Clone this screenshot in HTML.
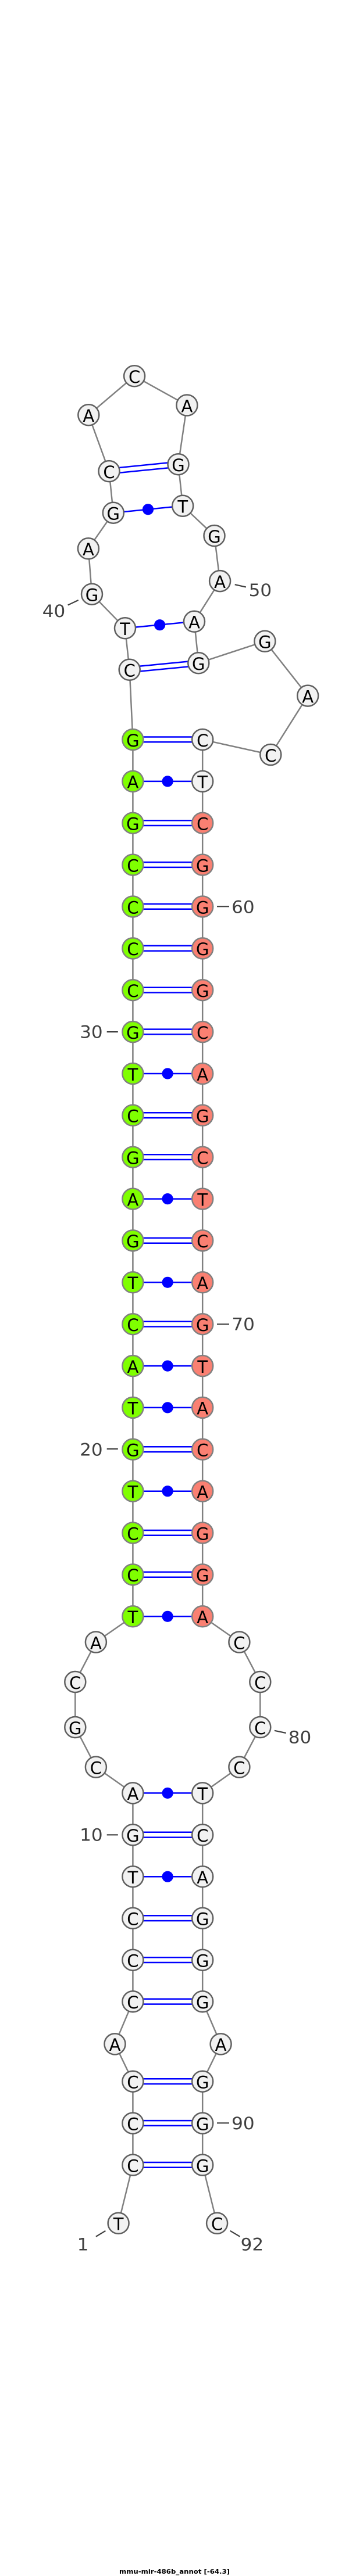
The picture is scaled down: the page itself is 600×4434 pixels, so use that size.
<!DOCTYPE html>
<html><head><meta charset="utf-8"><title>mmu-mir-486b_annot</title>
<style>
html,body{margin:0;padding:0;background:#fff}
svg{display:block}
.k{fill:none;stroke:#808080;stroke-width:2.5}
.b{fill:none;stroke:#0000ff;stroke-width:2.5}
.d{fill:#0000ff}
.w{fill:#f2f2f2;stroke:#5f5f5f;stroke-width:2.5;r:18px}
.g{fill:#7fff00;stroke:#808080;stroke-width:2.5;r:18px}
.s{fill:#fa8072;stroke:#808080;stroke-width:2.5;r:18px}
.n{font:29px "DejaVu Sans",sans-serif;fill:#000;text-anchor:middle;transform:translateY(2.3px)}
.l{font:29px "DejaVu Sans",sans-serif;fill:#404040}
.t{fill:none;stroke:#404040;stroke-width:2.2}
.h{font:bold 11px "DejaVu Sans",sans-serif;fill:#000}
</style></head><body>
<svg width="600" height="4434" viewBox="0 0 600 4434" xmlns="http://www.w3.org/2000/svg">
<path class="k" d="M203.6 3826.8L228.4 3726.5V3582.7L197.5 3518.4L228.4 3445.3V3086.4L164.9 3041.6L129.3 2973V2895L164.9 2826.5L228.4 2782.3V1273L222.7 1152.8L215 1081.3L158 1022.7L151.9 944.3L194.8 882.7L187.5 811.1L152.3 714.3L231.1 647.3L321.4 697.5L306.5 799.2L314.2 870.8L368.5 922.1L378.1 1000.1L334 1069.8L341.3 1141.3L455.4 1103.8L529.2 1197.6L465.3 1299L348.2 1273V2782.3L411.4 2826.5L447.3 2895V2973L411.4 3041.6L348.2 3086.4V3445.3L379.6 3518.4L348.2 3582.7V3726.5L373.1 3826.8"/>
<path class="b" d="M187.9 815.5L306.9 803.6M187.1 806.7L306.1 794.8M194.8 882.7L314.2 870.8M215 1081.3L334 1069.8M223.1 1157.2L341.7 1145.7M222.3 1148.4L340.9 1136.9"/>
<circle class="d" cx="254.5" cy="876.8" r="9.6"/><circle class="d" cx="274.6" cy="1075.7" r="9.6"/>

<g>
<circle class="w" cx="231.1" cy="647.3" r="18"/><text class="n" x="231.1" y="656.8">C</text>
<circle class="w" cx="321.4" cy="697.5" r="18"/><text class="n" x="321.4" y="707">A</text>
<circle class="w" cx="152.3" cy="714.3" r="18"/><text class="n" x="152.3" y="723.8">A</text>
<circle class="w" cx="306.5" cy="799.2" r="18"/><text class="n" x="306.5" y="808.7">G</text>
<circle class="w" cx="187.5" cy="811.1" r="18"/><text class="n" x="187.5" y="820.6">C</text>
<circle class="w" cx="314.2" cy="870.8" r="18"/><text class="n" x="314.2" y="880.3">T</text>
<circle class="w" cx="194.8" cy="882.7" r="18"/><text class="n" x="194.8" y="892.2">G</text>
<circle class="w" cx="368.5" cy="922.1" r="18"/><text class="n" x="368.5" y="931.6">G</text>
<circle class="w" cx="151.9" cy="944.3" r="18"/><text class="n" x="151.9" y="953.8">A</text>
<circle class="w" cx="378.1" cy="1000.1" r="18"/><text class="n" x="378.1" y="1009.6">A</text>
<circle class="w" cx="158" cy="1022.7" r="18"/><text class="n" x="158" y="1032.2">G</text>
<circle class="w" cx="334" cy="1069.8" r="18"/><text class="n" x="334" y="1079.3">A</text>
<circle class="w" cx="215" cy="1081.3" r="18"/><text class="n" x="215" y="1090.8">T</text>
<circle class="w" cx="222.7" cy="1152.8" r="18"/><text class="n" x="222.7" y="1162.3">C</text>
<circle class="w" cx="341.3" cy="1141.3" r="18"/><text class="n" x="341.3" y="1150.8">G</text>
<circle class="w" cx="455.4" cy="1103.8" r="18"/><text class="n" x="455.4" y="1113.3">G</text>
<circle class="w" cx="529.2" cy="1197.6" r="18"/><text class="n" x="529.2" y="1207.1">A</text>
<circle class="w" cx="465.3" cy="1299" r="18"/><text class="n" x="465.3" y="1308.5">C</text>
</g>

<g transform="translate(0,1273)"><path class="b" d="M228.4 -4.5H348.2M228.4 4.3H348.2"/><circle class="g" cx="228.4" cy="0" r="18"/><text class="n" x="228.4" y="9.5">G</text><circle class="w" cx="348.2" cy="0" r="18"/><text class="n" x="348.2" y="9.5">C</text></g>
<g transform="translate(0,1344.9)"><path class="b" d="M228.4 0H348.2"/><circle class="d" cx="288.1" cy="0" r="9.6"/><circle class="g" cx="228.4" cy="0" r="18"/><text class="n" x="228.4" y="9.5">A</text><circle class="w" cx="348.2" cy="0" r="18"/><text class="n" x="348.2" y="9.5">T</text></g>
<g transform="translate(0,1416.7)"><path class="b" d="M228.4 -4.5H348.2M228.4 4.3H348.2"/><circle class="g" cx="228.4" cy="0" r="18"/><text class="n" x="228.4" y="9.5">G</text><circle class="s" cx="348.2" cy="0" r="18"/><text class="n" x="348.2" y="9.5">C</text></g>
<g transform="translate(0,1488.6)"><path class="b" d="M228.4 -4.5H348.2M228.4 4.3H348.2"/><circle class="g" cx="228.4" cy="0" r="18"/><text class="n" x="228.4" y="9.5">C</text><circle class="s" cx="348.2" cy="0" r="18"/><text class="n" x="348.2" y="9.5">G</text></g>
<g transform="translate(0,1560.5)"><path class="b" d="M228.4 -4.5H348.2M228.4 4.3H348.2"/><circle class="g" cx="228.4" cy="0" r="18"/><text class="n" x="228.4" y="9.5">C</text><circle class="s" cx="348.2" cy="0" r="18"/><text class="n" x="348.2" y="9.5">G</text></g>
<g transform="translate(0,1632.4)"><path class="b" d="M228.4 -4.5H348.2M228.4 4.3H348.2"/><circle class="g" cx="228.4" cy="0" r="18"/><text class="n" x="228.4" y="9.5">C</text><circle class="s" cx="348.2" cy="0" r="18"/><text class="n" x="348.2" y="9.5">G</text></g>
<g transform="translate(0,1704.2)"><path class="b" d="M228.4 -4.5H348.2M228.4 4.3H348.2"/><circle class="g" cx="228.4" cy="0" r="18"/><text class="n" x="228.4" y="9.5">C</text><circle class="s" cx="348.2" cy="0" r="18"/><text class="n" x="348.2" y="9.5">G</text></g>
<g transform="translate(0,1776.1)"><path class="b" d="M228.4 -4.5H348.2M228.4 4.3H348.2"/><circle class="g" cx="228.4" cy="0" r="18"/><text class="n" x="228.4" y="9.5">G</text><circle class="s" cx="348.2" cy="0" r="18"/><text class="n" x="348.2" y="9.5">C</text></g>
<g transform="translate(0,1848)"><path class="b" d="M228.4 0H348.2"/><circle class="d" cx="288.1" cy="0" r="9.6"/><circle class="g" cx="228.4" cy="0" r="18"/><text class="n" x="228.4" y="9.5">T</text><circle class="s" cx="348.2" cy="0" r="18"/><text class="n" x="348.2" y="9.5">A</text></g>
<g transform="translate(0,1919.8)"><path class="b" d="M228.4 -4.5H348.2M228.4 4.3H348.2"/><circle class="g" cx="228.4" cy="0" r="18"/><text class="n" x="228.4" y="9.5">C</text><circle class="s" cx="348.2" cy="0" r="18"/><text class="n" x="348.2" y="9.5">G</text></g>
<g transform="translate(0,1991.7)"><path class="b" d="M228.4 -4.5H348.2M228.4 4.3H348.2"/><circle class="g" cx="228.4" cy="0" r="18"/><text class="n" x="228.4" y="9.5">G</text><circle class="s" cx="348.2" cy="0" r="18"/><text class="n" x="348.2" y="9.5">C</text></g>
<g transform="translate(0,2063.6)"><path class="b" d="M228.4 0H348.2"/><circle class="d" cx="288.1" cy="0" r="9.6"/><circle class="g" cx="228.4" cy="0" r="18"/><text class="n" x="228.4" y="9.5">A</text><circle class="s" cx="348.2" cy="0" r="18"/><text class="n" x="348.2" y="9.5">T</text></g>
<g transform="translate(0,2135.4)"><path class="b" d="M228.4 -4.5H348.2M228.4 4.3H348.2"/><circle class="g" cx="228.4" cy="0" r="18"/><text class="n" x="228.4" y="9.5">G</text><circle class="s" cx="348.2" cy="0" r="18"/><text class="n" x="348.2" y="9.5">C</text></g>
<g transform="translate(0,2207.3)"><path class="b" d="M228.4 0H348.2"/><circle class="d" cx="288.1" cy="0" r="9.6"/><circle class="g" cx="228.4" cy="0" r="18"/><text class="n" x="228.4" y="9.5">T</text><circle class="s" cx="348.2" cy="0" r="18"/><text class="n" x="348.2" y="9.5">A</text></g>
<g transform="translate(0,2279.2)"><path class="b" d="M228.4 -4.5H348.2M228.4 4.3H348.2"/><circle class="g" cx="228.4" cy="0" r="18"/><text class="n" x="228.4" y="9.5">C</text><circle class="s" cx="348.2" cy="0" r="18"/><text class="n" x="348.2" y="9.5">G</text></g>
<g transform="translate(0,2351.1)"><path class="b" d="M228.4 0H348.2"/><circle class="d" cx="288.1" cy="0" r="9.6"/><circle class="g" cx="228.4" cy="0" r="18"/><text class="n" x="228.4" y="9.5">A</text><circle class="s" cx="348.2" cy="0" r="18"/><text class="n" x="348.2" y="9.5">T</text></g>
<g transform="translate(0,2422.9)"><path class="b" d="M228.4 0H348.2"/><circle class="d" cx="288.1" cy="0" r="9.6"/><circle class="g" cx="228.4" cy="0" r="18"/><text class="n" x="228.4" y="9.5">T</text><circle class="s" cx="348.2" cy="0" r="18"/><text class="n" x="348.2" y="9.5">A</text></g>
<g transform="translate(0,2494.8)"><path class="b" d="M228.4 -4.5H348.2M228.4 4.3H348.2"/><circle class="g" cx="228.4" cy="0" r="18"/><text class="n" x="228.4" y="9.5">G</text><circle class="s" cx="348.2" cy="0" r="18"/><text class="n" x="348.2" y="9.5">C</text></g>
<g transform="translate(0,2566.7)"><path class="b" d="M228.4 0H348.2"/><circle class="d" cx="288.1" cy="0" r="9.6"/><circle class="g" cx="228.4" cy="0" r="18"/><text class="n" x="228.4" y="9.5">T</text><circle class="s" cx="348.2" cy="0" r="18"/><text class="n" x="348.2" y="9.5">A</text></g>
<g transform="translate(0,2638.5)"><path class="b" d="M228.4 -4.5H348.2M228.4 4.3H348.2"/><circle class="g" cx="228.4" cy="0" r="18"/><text class="n" x="228.4" y="9.5">C</text><circle class="s" cx="348.2" cy="0" r="18"/><text class="n" x="348.2" y="9.5">G</text></g>
<g transform="translate(0,2710.4)"><path class="b" d="M228.4 -4.5H348.2M228.4 4.3H348.2"/><circle class="g" cx="228.4" cy="0" r="18"/><text class="n" x="228.4" y="9.5">C</text><circle class="s" cx="348.2" cy="0" r="18"/><text class="n" x="348.2" y="9.5">G</text></g>
<g transform="translate(0,2782.3)"><path class="b" d="M228.4 0H348.2"/><circle class="d" cx="288.1" cy="0" r="9.6"/><circle class="g" cx="228.4" cy="0" r="18"/><text class="n" x="228.4" y="9.5">T</text><circle class="s" cx="348.2" cy="0" r="18"/><text class="n" x="348.2" y="9.5">A</text></g>

<circle class="w" cx="164.9" cy="2826.5" r="18"/><text class="n" x="164.9" y="2836">A</text>
<circle class="w" cx="129.3" cy="2895" r="18"/><text class="n" x="129.3" y="2904.5">C</text>
<circle class="w" cx="129.3" cy="2973" r="18"/><text class="n" x="129.3" y="2982.5">G</text>
<circle class="w" cx="164.9" cy="3041.6" r="18"/><text class="n" x="164.9" y="3051.1">C</text>
<circle class="w" cx="411.4" cy="2826.5" r="18"/><text class="n" x="411.4" y="2836">C</text>
<circle class="w" cx="447.3" cy="2895" r="18"/><text class="n" x="447.3" y="2904.5">C</text>
<circle class="w" cx="447.3" cy="2973" r="18"/><text class="n" x="447.3" y="2982.5">C</text>
<circle class="w" cx="411.4" cy="3041.6" r="18"/><text class="n" x="411.4" y="3051.1">C</text>

<g transform="translate(0,3086.4)"><path class="b" d="M228.4 0H348.2"/><circle class="d" cx="288.1" cy="0" r="9.6"/><circle class="w" cx="228.4" cy="0" r="18"/><text class="n" x="228.4" y="9.5">A</text><circle class="w" cx="348.2" cy="0" r="18"/><text class="n" x="348.2" y="9.5">T</text></g>
<g transform="translate(0,3158.3)"><path class="b" d="M228.4 -4.5H348.2M228.4 4.3H348.2"/><circle class="w" cx="228.4" cy="0" r="18"/><text class="n" x="228.4" y="9.5">G</text><circle class="w" cx="348.2" cy="0" r="18"/><text class="n" x="348.2" y="9.5">C</text></g>
<g transform="translate(0,3230.2)"><path class="b" d="M228.4 0H348.2"/><circle class="d" cx="288.1" cy="0" r="9.6"/><circle class="w" cx="228.4" cy="0" r="18"/><text class="n" x="228.4" y="9.5">T</text><circle class="w" cx="348.2" cy="0" r="18"/><text class="n" x="348.2" y="9.5">A</text></g>
<g transform="translate(0,3301.8)"><path class="b" d="M228.4 -4.5H348.2M228.4 4.3H348.2"/><circle class="w" cx="228.4" cy="0" r="18"/><text class="n" x="228.4" y="9.5">C</text><circle class="w" cx="348.2" cy="0" r="18"/><text class="n" x="348.2" y="9.5">G</text></g>
<g transform="translate(0,3373.7)"><path class="b" d="M228.4 -4.5H348.2M228.4 4.3H348.2"/><circle class="w" cx="228.4" cy="0" r="18"/><text class="n" x="228.4" y="9.5">C</text><circle class="w" cx="348.2" cy="0" r="18"/><text class="n" x="348.2" y="9.5">G</text></g>
<g transform="translate(0,3445.3)"><path class="b" d="M228.4 -4.5H348.2M228.4 4.3H348.2"/><circle class="w" cx="228.4" cy="0" r="18"/><text class="n" x="228.4" y="9.5">C</text><circle class="w" cx="348.2" cy="0" r="18"/><text class="n" x="348.2" y="9.5">G</text></g>
<circle class="w" cx="197.5" cy="3518.4" r="18"/><text class="n" x="197.5" y="3527.9">A</text>
<circle class="w" cx="379.6" cy="3518.4" r="18"/><text class="n" x="379.6" y="3527.9">A</text>
<g transform="translate(0,3582.7)"><path class="b" d="M228.4 -4.5H348.2M228.4 4.3H348.2"/><circle class="w" cx="228.4" cy="0" r="18"/><text class="n" x="228.4" y="9.5">C</text><circle class="w" cx="348.2" cy="0" r="18"/><text class="n" x="348.2" y="9.5">G</text></g>
<g transform="translate(0,3654.6)"><path class="b" d="M228.4 -4.5H348.2M228.4 4.3H348.2"/><circle class="w" cx="228.4" cy="0" r="18"/><text class="n" x="228.4" y="9.5">C</text><circle class="w" cx="348.2" cy="0" r="18"/><text class="n" x="348.2" y="9.5">G</text></g>
<g transform="translate(0,3726.5)"><path class="b" d="M228.4 -4.5H348.2M228.4 4.3H348.2"/><circle class="w" cx="228.4" cy="0" r="18"/><text class="n" x="228.4" y="9.5">C</text><circle class="w" cx="348.2" cy="0" r="18"/><text class="n" x="348.2" y="9.5">G</text></g>
<circle class="w" cx="203.6" cy="3826.8" r="18"/><text class="n" x="203.6" y="3836.3">T</text>
<circle class="w" cx="373.1" cy="3826.8" r="18"/><text class="n" x="373.1" y="3836.3">C</text>

<path class="t" d="M116.7 1041.5L134.7 1033M403.7 1006.2L422.8 1010.5M373 1560.3H394M183.7 1776.1H202.8M373 2279.3H394M183.7 2494H202.8M471.8 2978.8L491.7 2983M183.7 3158.3H202.8M373 3654.3H394M164.9 3849.8L181.4 3839.8M395.7 3839.8L412.5 3849.8"/>
<text class="l" x="72.8" y="1061.8" textLength="39.5" lengthAdjust="spacingAndGlyphs">40</text>
<text class="l" x="427.7" y="1026.2" textLength="39.5" lengthAdjust="spacingAndGlyphs">50</text>
<text class="l" x="398.2" y="1571.4" textLength="39.5" lengthAdjust="spacingAndGlyphs">60</text>
<text class="l" x="137.2" y="1786.5" textLength="39.5" lengthAdjust="spacingAndGlyphs">30</text>
<text class="l" x="398.4" y="2289.7" textLength="39.5" lengthAdjust="spacingAndGlyphs">70</text>
<text class="l" x="137.2" y="2505.5" textLength="39.5" lengthAdjust="spacingAndGlyphs">20</text>
<text class="l" x="495.8" y="3000.3" textLength="39.5" lengthAdjust="spacingAndGlyphs">80</text>
<text class="l" x="137.2" y="3168.6" textLength="39.5" lengthAdjust="spacingAndGlyphs">10</text>
<text class="l" x="398.2" y="3665" textLength="39.5" lengthAdjust="spacingAndGlyphs">90</text>
<text class="l" x="132.7" y="3873.5" textLength="19.8" lengthAdjust="spacingAndGlyphs">1</text>
<text class="l" x="413.6" y="3873.5" textLength="39.5" lengthAdjust="spacingAndGlyphs">92</text>
<text class="h" x="205" y="4430" textLength="190" lengthAdjust="spacingAndGlyphs">mmu-mir-486b_annot [-64.3]</text>
</svg>
</body></html>
